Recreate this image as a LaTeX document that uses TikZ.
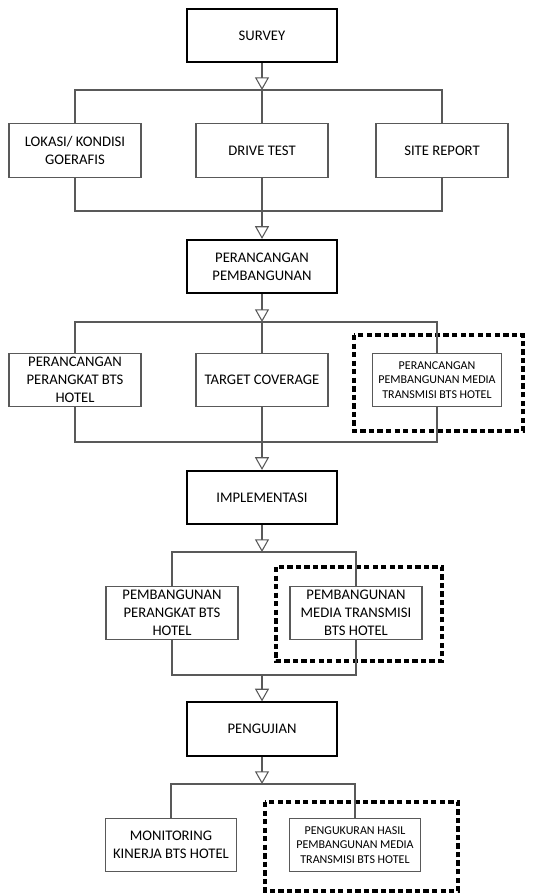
\documentclass[tikz,border=0pt]{standalone}
\usepackage{fontspec}
\setmainfont{Carlito}
\usepackage{xcolor}
\definecolor{LineGrey}{HTML}{595959}
\usepackage{tikz}
\usetikzlibrary{arrows.meta,positioning}
\newcommand\MainW{113pt}
\newcommand\SubW{99pt}
\newcommand\BoxH{40pt}
\newcommand\Mid{262}
\tikzstyle{mainbox}=[rectangle,draw=black,line width=1.4pt,align=center,
                     minimum height=\BoxH,minimum width=\MainW,
                     font=\fontsize{11}{13.5}\selectfont]
\tikzstyle{subbox}=[rectangle,draw=LineGrey,line width=0.8pt,align=center,inner sep=1pt,
                     minimum height=\BoxH,minimum width=\SubW,
                     font=\fontsize{11}{13.5}\selectfont]
\tikzstyle{smalltext}=[font=\fontsize{9}{11}\selectfont]
\tikzstyle{dashbox}=[draw=black,line width=2.3pt,dash pattern=on 4pt off 2.4pt]
\tikzstyle{link}=[draw=LineGrey,line width=0.8pt]
\tikzstyle{flow}=[link,-{Triangle[open,width=10.5pt,length=9.5pt]}]

\begin{document}
\begin{tikzpicture}[x=0.75pt,y=-0.75pt]
      \useasboundingbox (0,0) rectangle (533,895);
      % survey
      \node[mainbox] (survey) at (\Mid,35.5) {SURVEY};
      \node[subbox] (lokasi) at (75,150.5) {LOKASI/ KONDISI\\GOERAFIS};
      \node[subbox] (drive) at (\Mid,150.5) {DRIVE TEST};
      \node[subbox] (site) at (442,150.5) {SITE REPORT};
      \coordinate (b1) at (\Mid,90);
      \coordinate (m1) at (\Mid,211);
      \draw[flow] (survey) -- (b1);
      \draw[link] (lokasi.north) -- (lokasi.north |- b1) -- (site.north |- b1) -- (site.north);
      \draw[link] (b1) -- (drive.north);
      \draw[link] (lokasi.south) -- (lokasi.south |- m1) -- (site.south |- m1) -- (site.south);
      \draw[link] (drive.south) -- (m1);
      % perancangan
      \node[mainbox] (design) at (\Mid,266.5) {PERANCANGAN\\PEMBANGUNAN};
      \draw[flow] (m1) -- (design.north);
      \node[subbox] (devplan) at (75,380) {PERANCANGAN\\PERANGKAT BTS\\HOTEL};
      \node[subbox] (coverage) at (\Mid,380) {TARGET COVERAGE};
      \node[subbox,smalltext,minimum width=97pt] (mediaplan) at (437,380) {PERANCANGAN\\PEMBANGUNAN MEDIA\\TRANSMISI BTS HOTEL};
      \draw[dashbox] (354,335) rectangle (523,431);
      \coordinate (b2) at (\Mid,322);
      \coordinate (m2) at (\Mid,442);
      \draw[flow] (design) -- (b2);
      \draw[link] (devplan.north) -- (devplan.north |- b2) -- (mediaplan.north |- b2) -- (mediaplan.north);
      \draw[link] (b2) -- (coverage.north);
      \draw[link] (devplan.south) -- (devplan.south |- m2) -- (mediaplan.south |- m2) -- (mediaplan.south);
      \draw[link] (coverage.south) -- (m2);
      % implementasi
      \node[mainbox] (impl) at (\Mid,497.5) {IMPLEMENTASI};
      \draw[flow] (m2) -- (impl.north);
      \node[subbox] (devbuild) at (172,613) {PEMBANGUNAN\\PERANGKAT BTS\\HOTEL};
      \node[subbox] (mediabuild) at (356,613) {PEMBANGUNAN\\MEDIA TRANSMISI\\BTS HOTEL};
      \draw[dashbox] (276,567) rectangle (442,661);
      \coordinate (b3) at (\Mid,552);
      \coordinate (m3) at (\Mid,675);
      \draw[flow] (impl) -- (b3);
      \draw[link] (devbuild.north) -- (devbuild.north |- b3) -- (mediabuild.north |- b3) -- (mediabuild.north);
      \draw[link] (devbuild.south) -- (devbuild.south |- m3) -- (mediabuild.south |- m3) -- (mediabuild.south);
      % pengujian
      \node[mainbox] (test) at (\Mid,729) {PENGUJIAN};
      \draw[flow] (m3) -- (test.north);
      \node[subbox,minimum width=98pt] (monitor) at (171,845) {MONITORING\\KINERJA BTS HOTEL};
      \node[subbox,smalltext,minimum width=98pt] (measure) at (355,845) {PENGUKURAN HASIL\\PEMBANGUNAN MEDIA\\TRANSMISI BTS HOTEL};
      \draw[dashbox] (265,802) rectangle (458,891);
      \coordinate (b4) at (\Mid,784);
      \draw[flow] (test) -- (b4);
      \draw[link] (monitor.north) -- (monitor.north |- b4) -- (measure.north |- b4) -- (measure.north);
   \end{tikzpicture}
\end{document}
